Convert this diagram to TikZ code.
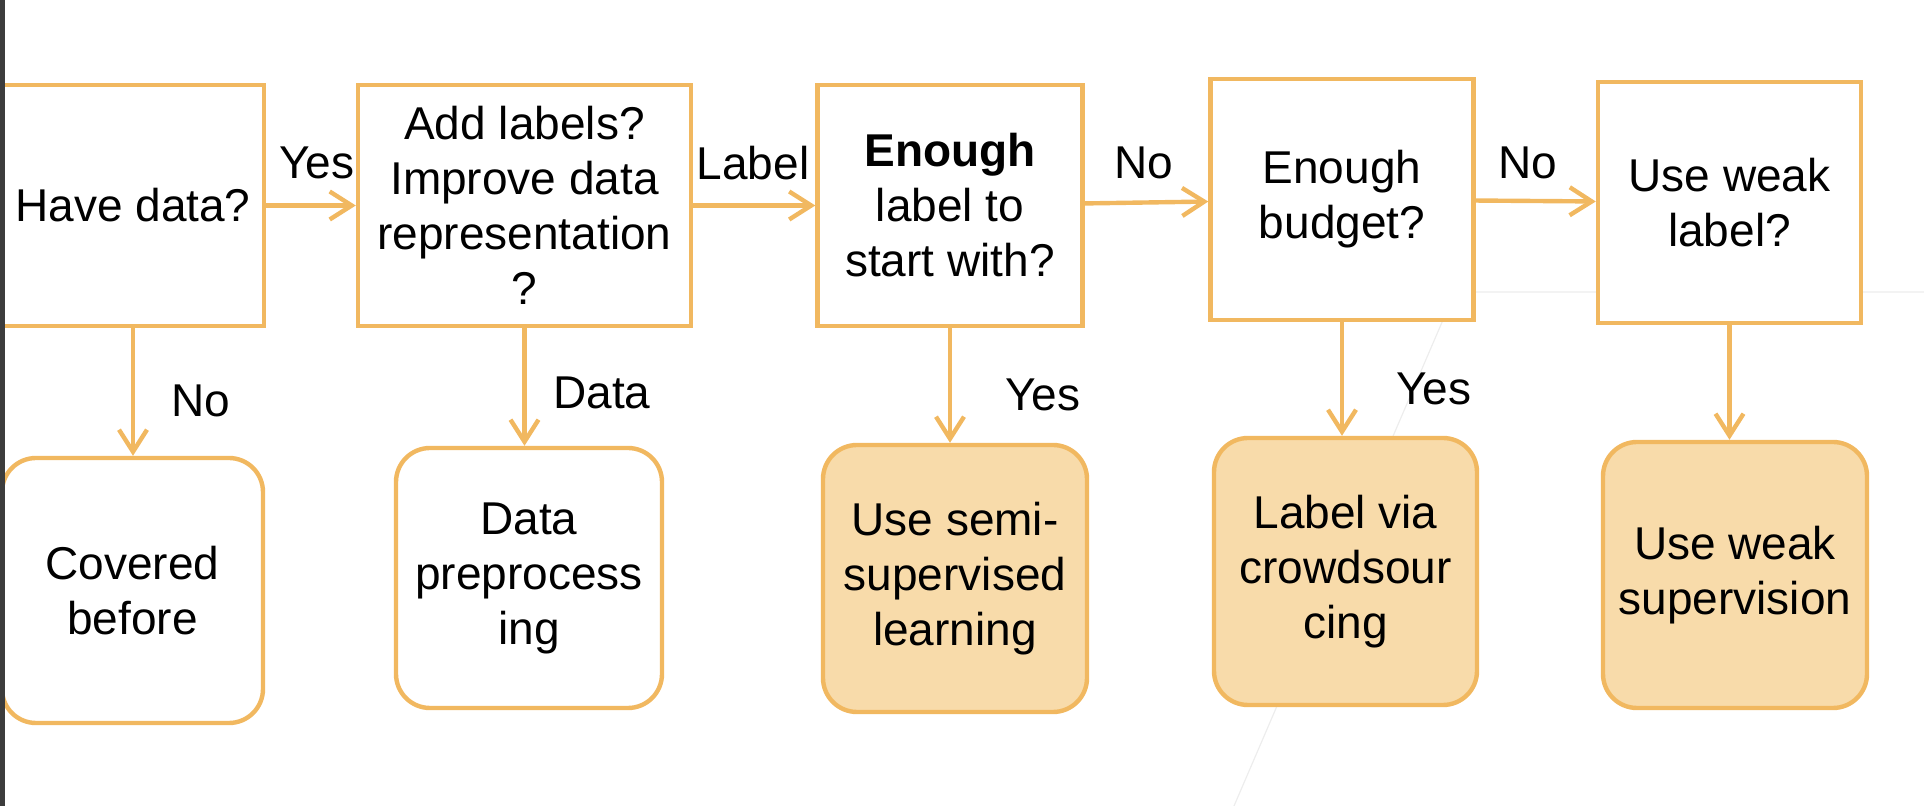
\documentclass[tikz,border=0pt]{standalone}
\usepackage{fontspec}
\setmainfont{Liberation Sans}
\usetikzlibrary{arrows.meta}
\definecolor{boxline}{HTML}{F1B860}
\definecolor{boxfill}{HTML}{F8DBAA}
\definecolor{barcolor}{HTML}{3C3C3C}
\tikzset{
  qbox/.style={draw=boxline, line width=2.2pt, fill=white, align=center,
    inner sep=0pt, font=\fontsize{23pt}{27.5pt}\selectfont},
  abox/.style={qbox, rounded corners=17pt},
  donebox/.style={abox, fill=boxfill},
  flow/.style={draw=boxline, line width=2.2pt,
    -{Straight Barb[length=11pt,width=14pt]}},
  lbl/.style={inner sep=0pt, font=\fontsize{23pt}{27.5pt}\selectfont},
  guide/.style={draw=black!7, line width=0.6pt}
}

\begin{document}
\begin{tikzpicture}[x=0.5pt,y=-0.5pt]
  \useasboundingbox (0,0) rectangle (1924,806);
  % faint lines behind the boxes
  \draw[guide] (1234,806) -- (1455,292) -- (1924,292);

  % questions
  \node[qbox, minimum width=131pt, minimum height=120.5pt] (havedata) at (133,205.5) {Have data?};
  \node[qbox, minimum width=166.5pt, minimum height=120.5pt] (addlabels) at (524.5,205.5) {Add labels?\\Improve data\\representation\\?};
  \node[qbox, minimum width=132.5pt, minimum height=120.5pt] (enough) at (950,205.5) {\textbf{Enough}\\label to\\start with?};
  \node[qbox, minimum width=131.5pt, minimum height=120.5pt] (budget) at (1342,199.5) {Enough\\budget?};
  \node[qbox, minimum width=131.5pt, minimum height=120.5pt] (weak) at (1729.5,202.5) {Use weak\\label?};

  % outcomes
  \node[abox, minimum width=130.5pt, minimum height=132.5pt] (covered) at (132.5,590.5) {Covered\\before};
  \node[abox, minimum width=133pt, minimum height=130pt] (preproc) at (529,578) {Data\\preprocess\\ing};
  \node[donebox, minimum width=132pt, minimum height=133.5pt] (semisup) at (955,578.5) {Use semi-\\supervised\\learning};
  \node[donebox, minimum width=131.5pt, minimum height=133.5pt] (crowd) at (1345.5,571.5) {Label via\\crowdsour\\cing};
  \node[donebox, minimum width=132pt, minimum height=133pt] (weaksup) at (1735,575) {Use weak\\supervision};

  % arrows along the top row
  \draw[flow] (havedata) -- (addlabels);
  \draw[flow] (addlabels) -- (enough);
  \draw[flow] (enough) -- (budget);
  \draw[flow] (budget) -- (weak);

  % arrows down
  \draw[flow] (havedata.south) -- (havedata.south |- covered.north);
  \draw[flow] (addlabels.south) -- (addlabels.south |- preproc.north);
  \draw[flow] (enough.south) -- (enough.south |- semisup.north);
  \draw[flow] (budget.south) -- (budget.south |- crowd.north);
  \draw[flow] (weak.south) -- (weak.south |- weaksup.north);

  % arrow labels
  \node[lbl] (yesdata) at (317,163) {Yes};
  \node[lbl] (labelarrow) at (753,163) {Label};
  \node[lbl] (noenough) at (1144,163) {No};
  \node[lbl] (nobudget) at (1528,163) {No};
  \node[lbl] (nodata) at (201,401) {No};
  \node[lbl] (dataarrow) at (602,393) {Data};
  \node[lbl] (yesenough) at (1043,395) {Yes};
  \node[lbl] (yesbudget) at (1434,389) {Yes};

  % dark strip on the left edge
  \fill[barcolor] (0,0) rectangle (4.5,806);
\end{tikzpicture}
\end{document}
